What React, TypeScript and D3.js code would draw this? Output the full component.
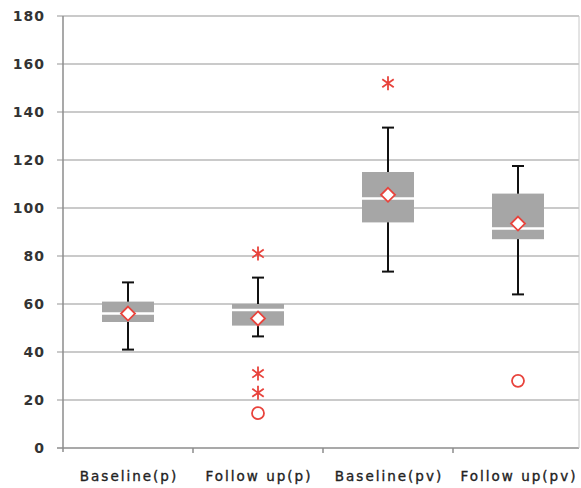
import React from 'react';
import * as d3 from 'd3';

const categories = ['Baseline(p)', 'Follow up(p)', 'Baseline(pv)', 'Follow up(pv)'];
const whiskerLow = [41, 46.5, 73.5, 64];
const q1 = [52.5, 51, 94, 87];
const medians = [56, 57.5, 104, 91.5];
const q3 = [61, 60, 115, 106];
const whiskerHigh = [69, 71, 133.5, 117.5];
const means = [56, 54, 105.5, 93.5];
// outliers marked with an asterisk / a circle
const starOutliers = [[], [81, 31, 23], [152], []];
const circleOutliers = [[], [14.5], [], [28]];
const yTicks = [0, 20, 40, 60, 80, 100, 120, 140, 160, 180];

const RED = '#e8433c';

const App = () => {
  const width = 581;
  const height = 488;
  const left = 63, right = 579, top = 16, bottom = 448;

  const x = d3.scaleBand().domain(categories).range([left, 583]).paddingInner(0);
  const y = d3.scaleLinear().domain([0, 180]).range([bottom, top]);
  const boxW = 52;
  const capW = 12;

  const star = (cx, cy, r, key) => {
    const d = [0, 55, 125].map(a => {
      const rad = (a * Math.PI) / 180;
      const dx = Math.sin(rad) * r, dy = Math.cos(rad) * r;
      return `M${cx - dx},${cy - dy}L${cx + dx},${cy + dy}`;
    }).join('');
    return <path key={key} d={d} stroke={RED} strokeWidth={1.8} fill="none" />;
  };

  return (
    <svg width={width} height={height} style={{ position: 'absolute', left: 0, top: 0, background: '#fff' }}>
      {/* grid */}
      {yTicks.map(t => (
        <g key={t}>
          <line x1={left - 6} x2={right} y1={y(t)} y2={y(t)}
            stroke={t === 0 ? '#8c8c8c' : '#b8b8b8'} strokeWidth={1.5} />
          <text x={45} y={y(t)} dy="0.36em" textAnchor="end"
            fontFamily="DejaVu Sans" fontWeight="bold" fontSize={14} letterSpacing={1} fill="#333">{t}</text>
        </g>
      ))}
      {/* frame */}
      <line x1={left} x2={left} y1={top} y2={bottom + 4} stroke="#8c8c8c" strokeWidth={1.5} />
      <line x1={right} x2={right} y1={top} y2={bottom} stroke="#c8c8c8" strokeWidth={1} />
      {categories.slice(1).map(c => (
        <line key={c} x1={x(c)} x2={x(c)} y1={bottom} y2={bottom + 5} stroke="#8c8c8c" strokeWidth={1.5} />
      ))}
      {categories.map((c, i) => {
        const cx = x(c) + x.bandwidth() / 2;
        return (
          <g key={c}>
            <line x1={cx} x2={cx} y1={y(whiskerHigh[i])} y2={y(whiskerLow[i])} stroke="#111" strokeWidth={2} />
            <line x1={cx - capW / 2} x2={cx + capW / 2} y1={y(whiskerHigh[i])} y2={y(whiskerHigh[i])} stroke="#111" strokeWidth={2} />
            <line x1={cx - capW / 2} x2={cx + capW / 2} y1={y(whiskerLow[i])} y2={y(whiskerLow[i])} stroke="#111" strokeWidth={2} />
            <rect x={cx - boxW / 2} y={y(q3[i])} width={boxW} height={y(q1[i]) - y(q3[i])} fill="#a6a6a6" />
            <line x1={cx - boxW / 2} x2={cx + boxW / 2} y1={y(medians[i])} y2={y(medians[i])} stroke="#fff" strokeWidth={2.5} />
            <path d={`M${cx},${y(means[i]) - 7}L${cx + 7},${y(means[i])}L${cx},${y(means[i]) + 7}L${cx - 7},${y(means[i])}Z`}
              fill="#fff" stroke={RED} strokeWidth={1.8} />
            {starOutliers[i].map((v, j) => star(cx, y(v), 7, `s${j}`))}
            {circleOutliers[i].map((v, j) => (
              <circle key={`c${j}`} cx={cx} cy={y(v)} r={6} fill="none" stroke={RED} strokeWidth={1.8} />
            ))}
            <text x={cx + 1} y={481} textAnchor="middle" fontFamily="DejaVu Sans" fontSize={13.5}
              letterSpacing={2} fill="#222" stroke="#222" strokeWidth={0.35}>{c}</text>
          </g>
        );
      })}
    </svg>
  );
};

export default App;
